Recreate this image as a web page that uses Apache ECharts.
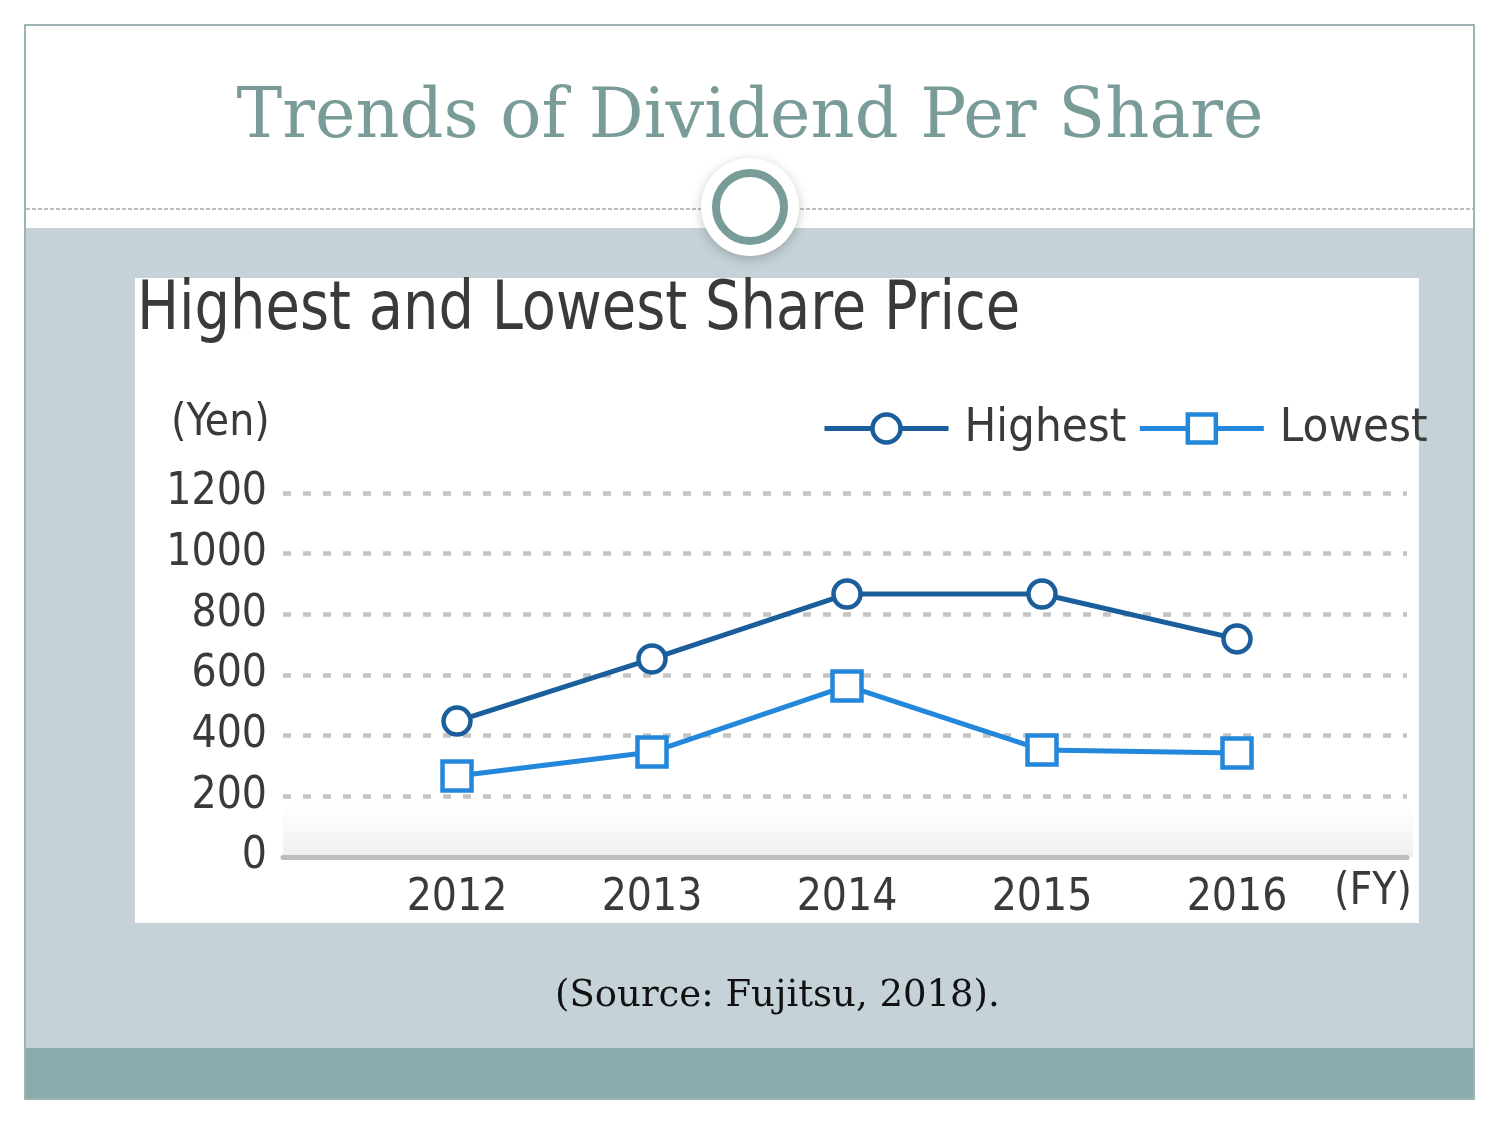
<!DOCTYPE html>
<html>
<head>
<meta charset="utf-8">
<script src="https://cdn.jsdelivr.net/npm/echarts@6/dist/echarts.min.js"></script>
<style>
html,body{margin:0;padding:0;background:#fff;}
#chart{width:1500px;height:1125px;}
</style>
</head>
<body>
<div id="chart"></div>
<script>
var years = ['2012', '2013', '2014', '2015', '2016'];
var highest = [448, 653, 867, 867, 719];
var lowest = [267, 346, 564, 353, 343];
var yTicks = [0, 200, 400, 600, 800, 1000, 1200];

var NARROW = "'DejaVu Sans Condensed', 'DejaVu Sans', sans-serif";
var SERIF = "'DejaVu Serif', serif";
var TXT = '#3a3a3a';
var C_HIGH = '#1b5e9c';
var C_LOW = '#2388dc';

var chart = echarts.init(document.getElementById('chart'), null, {renderer: 'canvas'});
var option = {
  backgroundColor: '#ffffff',
  animation: false,
  title: [
    {
      text: 'Trends of Dividend Per Share',
      left: 'center', top: 80,
      textStyle: {fontFamily: SERIF, fontSize: 68.5, fontWeight: 'normal', color: '#7a9c99'}
    },
    {
      text: '(Source: Fujitsu, 2018).',
      left: 550, top: 973,
      textStyle: {fontFamily: SERIF, fontSize: 37, fontWeight: 'normal', color: '#111111'}
    }
  ],
  legend: {
    left: 822, top: 405, padding: 0,
    itemWidth: 124, itemHeight: 35, itemGap: 11,
    itemStyle: {borderWidth: 4.5},
    lineStyle: {width: 5},
    textStyle: {fontFamily: NARROW, fontSize: 47, color: TXT, padding: [0, 0, 0, 11]},
    data: ['Highest', 'Lowest']
  },
  graphic: [
    {type: 'rect', z: -100, silent: true, shape: {x: 25, y: 25, width: 1449, height: 1074}, style: {fill: '#ffffff', stroke: '#7f9a9a', lineWidth: 1.5}},
    {type: 'rect', z: -99, silent: true, shape: {x: 26, y: 228, width: 1447, height: 820}, style: {fill: '#c5d3d8'}},
    {type: 'rect', z: -99, silent: true, shape: {x: 26, y: 1048, width: 1447, height: 50}, style: {fill: '#8aabab'}},
    {type: 'line', z: -98, silent: true, shape: {x1: 26, y1: 209, x2: 1473, y2: 209}, style: {stroke: '#7d7d7d', lineWidth: 1, lineDash: [4, 2]}},
    {type: 'circle', z: -97, silent: true, shape: {cx: 750, cy: 207, r: 49}, style: {fill: '#ffffff', shadowBlur: 12, shadowOffsetY: 3, shadowColor: 'rgba(0,0,0,0.22)'}},
    {type: 'circle', z: -96, silent: true, shape: {cx: 750, cy: 207, r: 34}, style: {fill: '#ffffff', stroke: '#789c98', lineWidth: 8}},
    {type: 'rect', z: -95, silent: true, shape: {x: 135, y: 278, width: 1284, height: 645}, style: {fill: '#ffffff'}},
    {type: 'rect', z: -94, silent: true, shape: {x: 283, y: 805, width: 1130, height: 52},
      style: {fill: new echarts.graphic.LinearGradient(0, 0, 0, 1, [{offset: 0, color: 'rgba(240,240,240,0)'}, {offset: 1, color: '#efefef'}])}},
    {type: 'text', x: 137, y: 277, scaleX: 0.914, originX: 0, originY: 0,
      style: {text: 'Highest and Lowest Share Price', fontFamily: NARROW, fontSize: 68, fill: TXT, textVerticalAlign: 'top'}},
    {type: 'text', left: 171, top: 402, style: {text: '(Yen)', fontFamily: NARROW, fontSize: 44, fill: TXT}},
    {type: 'text', left: 1334, top: 871, style: {text: '(FY)', fontFamily: NARROW, fontSize: 44, fill: TXT}}
  ],
  grid: [
    {left: 283, top: 493, width: 1124, height: 364, containLabel: false},
    {left: 359.5, top: 493, width: 975, height: 364, containLabel: false}
  ],
  xAxis: [
    {gridIndex: 0, type: 'value', min: 0, max: 1, show: true,
      axisLine: {show: true, onZero: false, lineStyle: {color: '#bdbdbd', width: 5}},
      axisTick: {show: false}, axisLabel: {show: false}, splitLine: {show: false}},
    {gridIndex: 1, type: 'category', data: years, boundaryGap: true,
      axisLine: {show: false}, axisTick: {show: false}, splitLine: {show: false},
      axisLabel: {margin: 20, fontFamily: NARROW, fontSize: 44, color: TXT}}
  ],
  yAxis: [
    {gridIndex: 0, type: 'value', min: yTicks[0], max: yTicks[yTicks.length - 1], interval: 200,
      axisLine: {show: false}, axisTick: {show: false},
      axisLabel: {margin: 16, fontFamily: NARROW, fontSize: 44, color: TXT, formatter: function (v) { return String(v); }},
      splitLine: {show: true, lineStyle: {color: '#c4c4c4', width: 4.5, type: [8, 12]}}},
    {gridIndex: 1, type: 'value', min: yTicks[0], max: yTicks[yTicks.length - 1], interval: 200, show: false,
      splitLine: {show: false}}
  ],
  series: [
    {name: 'Highest', type: 'line', xAxisIndex: 1, yAxisIndex: 1, data: highest,
      symbol: 'circle', symbolSize: 27, z: 5,
      lineStyle: {color: C_HIGH, width: 5},
      itemStyle: {color: '#ffffff', borderWidth: 4.5, borderColor: C_HIGH}},
    {name: 'Lowest', type: 'line', xAxisIndex: 1, yAxisIndex: 1, data: lowest,
      symbol: 'rect', symbolSize: 29, z: 4,
      lineStyle: {color: C_LOW, width: 5},
      itemStyle: {color: '#ffffff', borderWidth: 4.5, borderColor: C_LOW}}
  ]
};
chart.setOption(option);
</script>
</body>
</html>
